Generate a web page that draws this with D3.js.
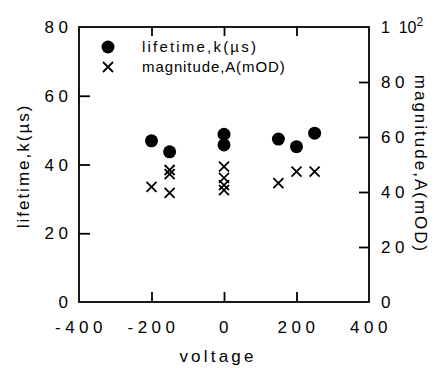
<!DOCTYPE html>
<html>
<head>
<meta charset="utf-8">
<script src="https://cdn.jsdelivr.net/npm/d3@7"></script>
<style>
  body { margin: 0; background: #fff; }
  svg text { font-family: "Liberation Sans", Arial, sans-serif; fill: #000; }
</style>
</head>
<body>
<div id="chart"></div>
<script>
// lifetime points (left axis)
let lifeVoltage = [-200, -150, 0, 0, 150, 200, 250];
let lifetime = [46.9, 43.7, 48.8, 45.7, 47.4, 45.2, 49.1];
// magnitude points (right axis)
let magVoltage = [-200, -150, -150, -150, 0, 0, 0, 0, 150, 200, 250];
let magnitude = [41.9, 48.0, 46.5, 39.7, 49.2, 45.1, 42.5, 40.7, 43.2, 47.4, 47.4];

let xTicks = [-400, -200, 0, 200, 400];
let leftTicks = [0, 20, 40, 60, 80];
let rightTicks = [0, 20, 40, 60, 80];

let sizes = {width: 436, height: 368, left: 79, right: 369, top: 27, bottom: 302};

let svg = d3.select('#chart').append('svg')
    .attr('width', sizes.width)
    .attr('height', sizes.height);

let x = d3.scaleLinear().domain([-400, 400]).range([sizes.left, sizes.right]);
let yL = d3.scaleLinear().domain([0, 80]).range([sizes.bottom, sizes.top]);
let yR = d3.scaleLinear().domain([0, 100]).range([sizes.bottom, sizes.top]);

// frame
svg.append('rect')
    .attr('x', sizes.left).attr('y', sizes.top)
    .attr('width', sizes.right - sizes.left)
    .attr('height', sizes.bottom - sizes.top)
    .attr('fill', 'none').attr('stroke', '#000').attr('stroke-width', 1.8);

function tickStyle(g) {
    g.select('.domain').remove();
    g.selectAll('.tick line').attr('stroke', '#000').attr('stroke-width', 1.8);
    g.selectAll('.tick text').remove();
}

svg.append('g').attr('transform', `translate(0,${sizes.bottom})`)
    .call(d3.axisBottom(x).tickValues([-200, 0, 200]).tickSize(-10)).call(tickStyle);
svg.append('g').attr('transform', `translate(0,${sizes.top})`)
    .call(d3.axisTop(x).tickValues([-200, 0, 200]).tickSize(-9)).call(tickStyle);
svg.append('g').attr('transform', `translate(${sizes.left},0)`)
    .call(d3.axisLeft(yL).tickValues([20, 40, 60]).tickSize(-11)).call(tickStyle);
svg.append('g').attr('transform', `translate(${sizes.right},0)`)
    .call(d3.axisRight(yR).tickValues([20, 40, 60, 80]).tickSize(-10)).call(tickStyle);

// tick labels
let lbl = {'font-size': '17px', 'letter-spacing': '4.5px'};
svg.selectAll('.xl').data(xTicks).enter().append('text')
    .attr('x', d => x(d) + 2).attr('y', 333)
    .attr('text-anchor', 'middle')
    .style('font-size', lbl['font-size']).style('letter-spacing', lbl['letter-spacing'])
    .text(d => d);
svg.selectAll('.yl').data(leftTicks).enter().append('text')
    .attr('x', 72.5).attr('y', d => yL(d) + 6)
    .attr('text-anchor', 'end')
    .style('font-size', lbl['font-size']).style('letter-spacing', lbl['letter-spacing'])
    .text(d => d);
svg.selectAll('.yr').data(rightTicks).enter().append('text')
    .attr('x', 381).attr('y', d => yR(d) + 6)
    .style('font-size', lbl['font-size']).style('letter-spacing', lbl['letter-spacing'])
    .text(d => d);
let topLabel = svg.append('text').attr('x', 381).attr('y', yR(100) + 6)
    .style('font-size', '16px');
topLabel.append('tspan').text('1');
topLabel.append('tspan').attr('dx', 10).text('10');
topLabel.append('tspan').attr('dy', -7).style('font-size', '12px').text('2');

// axis titles
svg.append('text')
    .attr('transform', `translate(218,362)`)
    .attr('text-anchor', 'middle')
    .style('font-size', '17px').style('letter-spacing', '3.2px')
    .text('voltage');
svg.append('text')
    .attr('transform', `translate(29,166) rotate(-90)`)
    .attr('text-anchor', 'middle')
    .style('font-size', '17px').style('letter-spacing', '2px')
    .text('lifetime,k(µs)');
svg.append('text')
    .attr('transform', `translate(415,164) rotate(90)`)
    .attr('text-anchor', 'middle')
    .style('font-size', '17px').style('letter-spacing', '2px')
    .text('magnitude,A(mOD)');

function drawCross(g, cx, cy) {
    let s = 5;
    g.append('path')
        .attr('d', `M${cx - s},${cy - s}L${cx + s},${cy + s}M${cx - s},${cy + s}L${cx + s},${cy - s}`)
        .attr('stroke', '#000').attr('stroke-width', 1.8).attr('fill', 'none');
}

// legend
svg.append('circle').attr('cx', 108).attr('cy', 47).attr('r', 6.5).attr('fill', '#000');
drawCross(svg, 108, 67);
svg.append('text').attr('x', 142).attr('y', 52)
    .style('font-size', '15px').style('letter-spacing', '2.2px')
    .text('lifetime,k(µs)');
svg.append('text').attr('x', 142).attr('y', 72)
    .style('font-size', '15px').style('letter-spacing', '0.9px')
    .text('magnitude,A(mOD)');

// data
svg.append('g').selectAll('circle')
    .data(lifetime).enter().append('circle')
    .attr('cx', (d, i) => x(lifeVoltage[i]))
    .attr('cy', d => yL(d))
    .attr('r', 6.5)
    .attr('fill', '#000');

let crosses = svg.append('g');
magnitude.forEach((d, i) => drawCross(crosses, x(magVoltage[i]), yR(d)));
</script>
</body>
</html>
